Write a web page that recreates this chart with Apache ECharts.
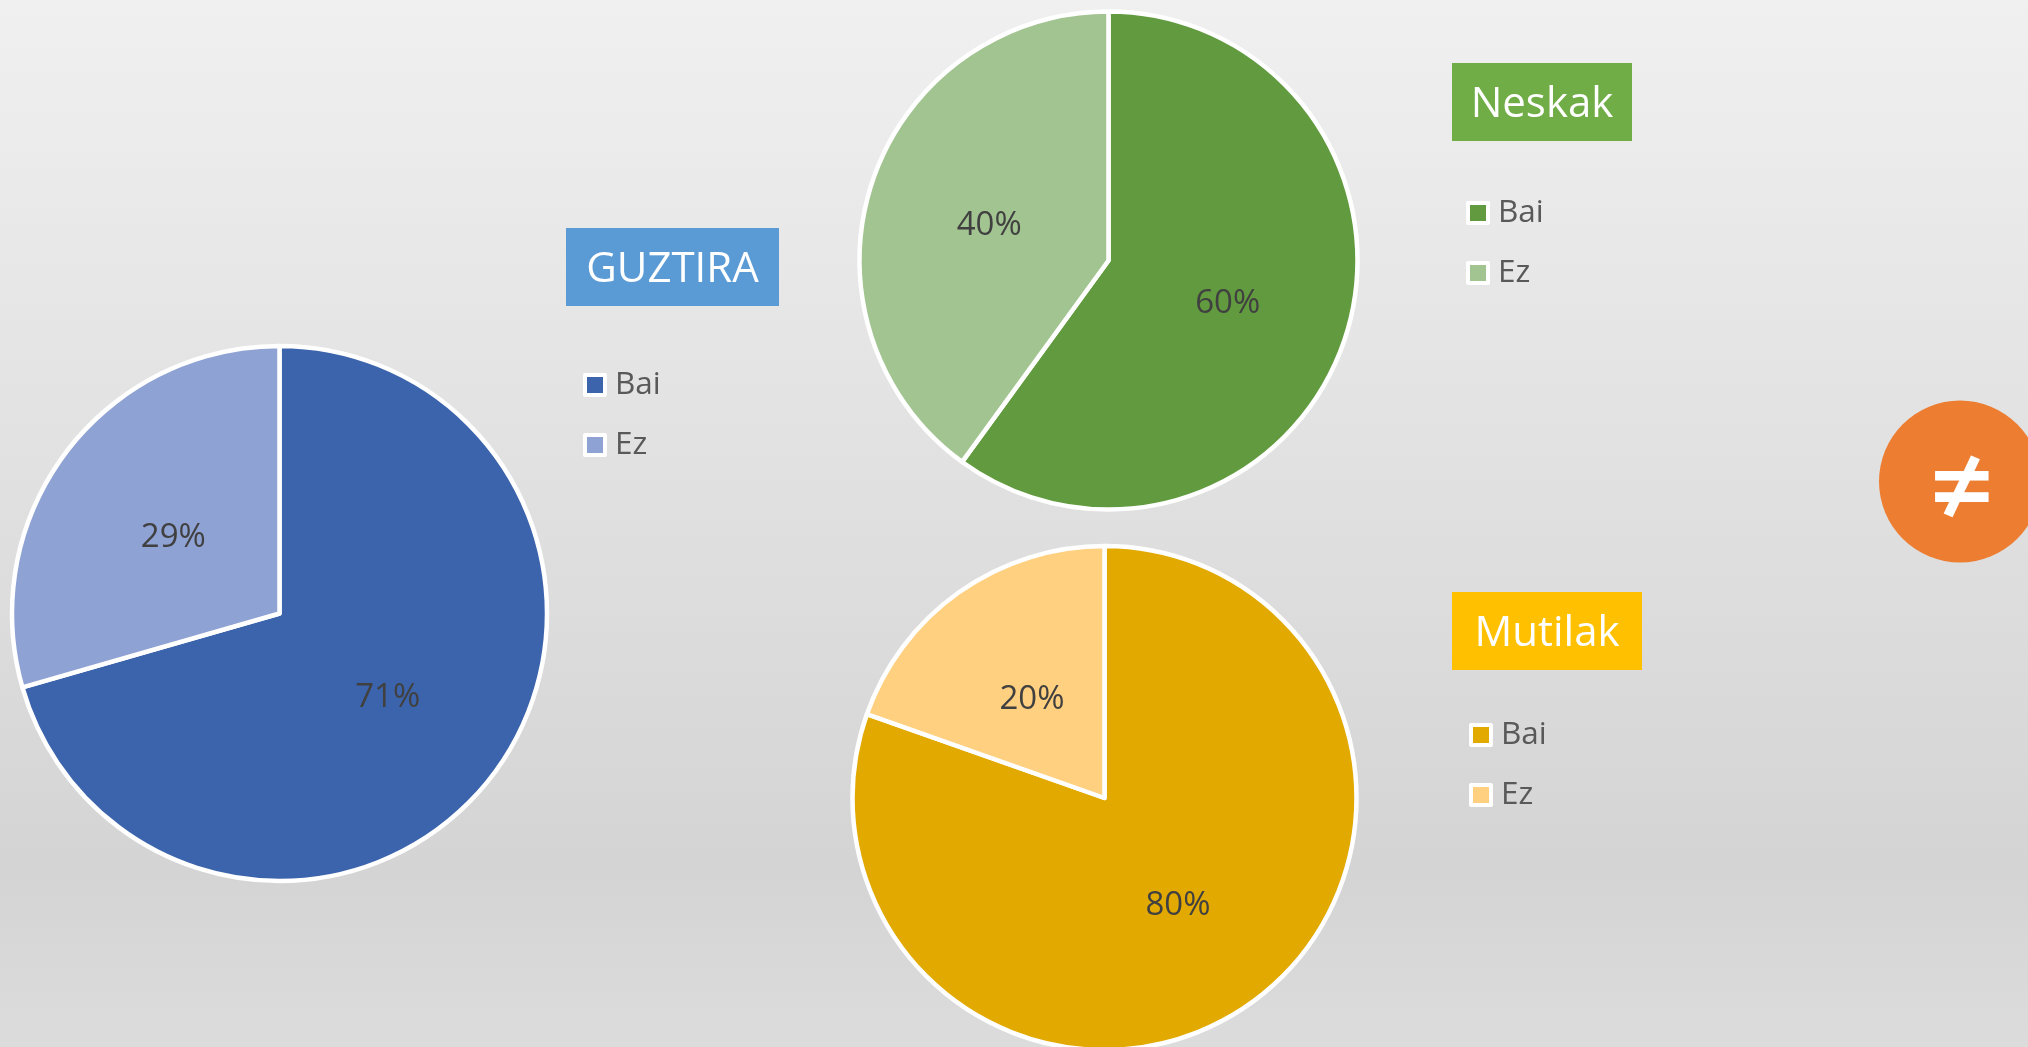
<!DOCTYPE html>
<html>
<head>
<meta charset="utf-8">
<style>html,body{margin:0;padding:0;overflow:hidden}#c{width:2028px;height:1047px}</style>
<script src="https://cdn.jsdelivr.net/npm/echarts@6/dist/echarts.min.js"></script>
</head>
<body>
<div id="c"></div>
<script>
const categories = ['Bai', 'Ez'];
const guztira = [70.55, 29.45];
const neskak = [60, 40];
const mutilak = [80.4, 19.6];
const titles = ['GUZTIRA', 'Neskak', 'Mutilak'];
const symbol = '≠';

const font = '"Open Sans", "Noto Sans", sans-serif';
const panels = [
  {values: guztira, colors: ['#3c64ac', '#8fa2d4'], center: [279.5, 613.5], radius: 267.5,
   titleBg: '#5b9bd5', box: [566, 228, 213, 78], legend: [583, 369], nudge: [[-1, 2], [3, 6]]},
  {values: neskak, colors: ['#629b3f', '#a2c491'], center: [1108.5, 260.5], radius: 249,
   titleBg: '#70ad47', box: [1452, 63, 180, 78], legend: [1466, 197], nudge: [[-2, 4], [2, 4]]},
  {values: mutilak, colors: ['#e2a900', '#ffd07f'], center: [1104.5, 798], radius: 252,
   titleBg: '#ffc000', box: [1452, 592, 190, 78], legend: [1469, 719], nudge: [[-1, 2], [2, 7]]}
];

const chart = echarts.init(document.getElementById('c'), null, {renderer: 'canvas'});
const graphic = [];
panels.forEach((p, i) => {
  graphic.push({type: 'rect', x: p.box[0], y: p.box[1], shape: {width: p.box[2], height: p.box[3]},
    style: {fill: p.titleBg}, z: 1});
  graphic.push({type: 'text', x: p.box[0] + p.box[2] / 2, y: p.box[1] + p.box[3] / 2 + 3, z: 2,
    style: {text: titles[i], fill: '#fff', font: '42px ' + font, align: 'center', verticalAlign: 'middle'}});
});
graphic.push({type: 'circle', shape: {cx: 1960, cy: 481.5, r: 81}, style: {fill: '#ed7d31'}, z: 1});
graphic.push({type: 'text', x: 1962, y: 494, z: 2,
  style: {text: symbol, fill: '#fff', font: '600 112px "Open Sans", sans-serif', align: 'center', verticalAlign: 'middle'}});

chart.setOption({
  animation: false,
  backgroundColor: new echarts.graphic.LinearGradient(0, 0, 0, 1, [
    {offset: 0, color: '#f0f0f0'}, {offset: 0.83, color: '#d4d4d4'}, {offset: 1, color: '#dcdcdc'}
  ]),
  graphic: graphic,
  legend: panels.map(p => ({
    left: p.legend[0], top: p.legend[1], orient: 'vertical', selectedMode: false, padding: 0,
    icon: 'rect', itemWidth: 20, itemHeight: 20, itemGap: 28,
    textStyle: {fontFamily: font, fontSize: 31.5, color: '#595959', padding: [0, 0, 0, 5]},
    data: categories.map((c, k) => ({name: c, itemStyle: {color: p.colors[k], borderColor: '#fff', borderWidth: 4}}))
  })),
  series: panels.map(p => ({
    type: 'pie', center: p.center, radius: [0, p.radius], startAngle: 90, clockwise: true,
    percentPrecision: 0, silent: true,
    itemStyle: {borderColor: '#fff', borderWidth: 4.5},
    label: {position: 'inner', formatter: '{d}%', fontFamily: font, fontSize: 33, color: '#404040'},
    labelLine: {show: false},
    labelLayout: params => ({dx: p.nudge[params.dataIndex][0], dy: p.nudge[params.dataIndex][1]}),
    data: categories.map((c, k) => ({name: c, value: p.values[k], itemStyle: {color: p.colors[k]}}))
  }))
});
</script>
</body>
</html>
